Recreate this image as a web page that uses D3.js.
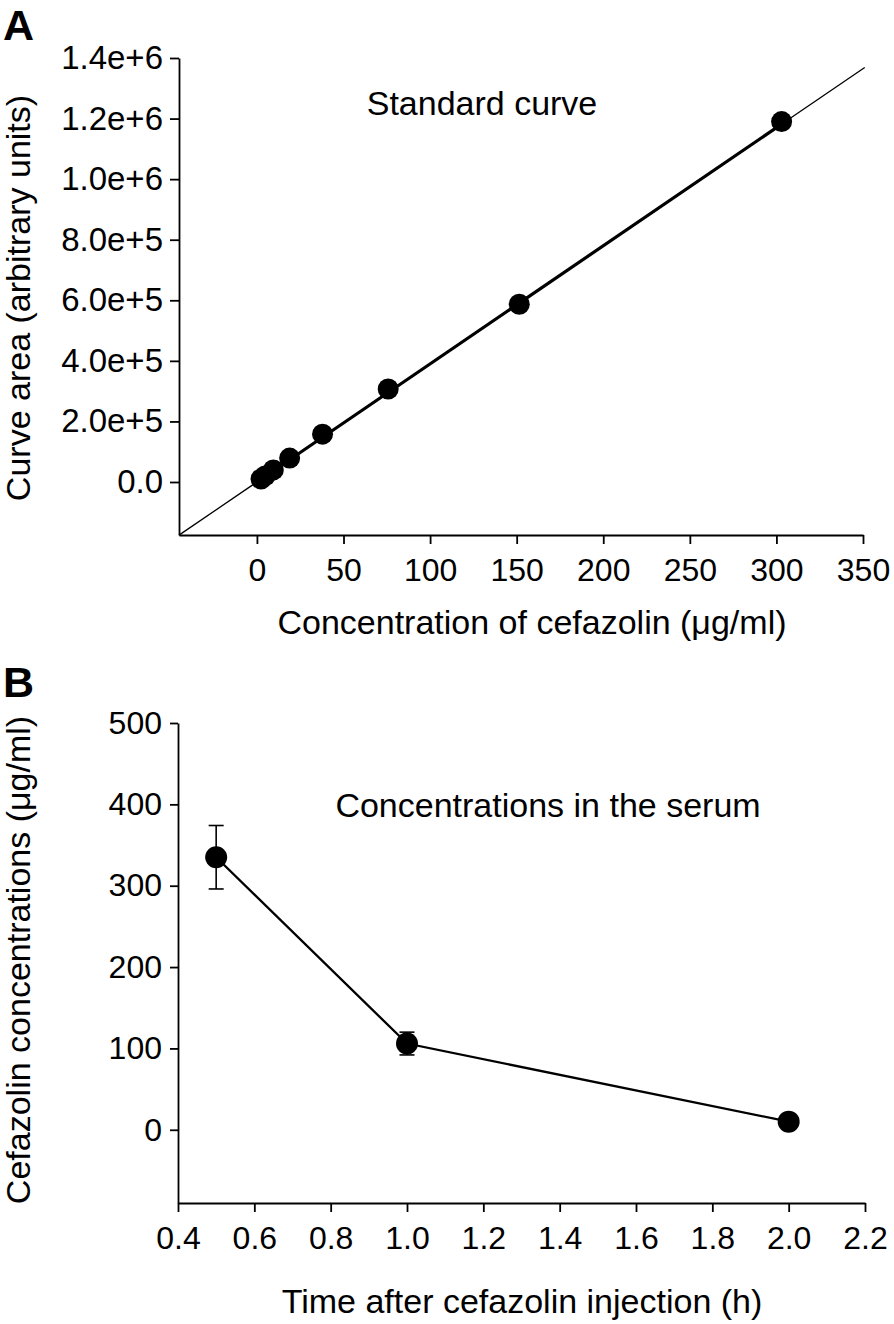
<!DOCTYPE html>
<html>
<head>
<meta charset="utf-8">
<script src="https://cdn.jsdelivr.net/npm/d3@7"></script>
<style>
  body { margin: 0; background: #fff; }
  svg { display: block; font-family: "Liberation Sans", Arial, sans-serif; }
  .axis path, .axis line { stroke: #000; stroke-width: 1.8; }
  .axis text { fill: #000; font-size: 32px; font-family: "Liberation Sans", Arial, sans-serif; }
  .axis.big text { font-size: 33px; }
</style>
</head>
<body>
<div id="chart"></div>
<script>
// Panel A: standard curve
const stdConc = [2.37, 4.73, 9.47, 18.9, 37.9, 75.8, 151.5, 303];
const stdArea = [1.0e4, 2.0e4, 4.0e4, 7.9e4, 1.58e5, 3.07e5, 5.87e5, 1.19e6];
const fitSlope = 3900, fitIntercept = 0;
const fitRange = [-45, 351];
const aXTicks = [0, 50, 100, 150, 200, 250, 300, 350];
const aYTicks = [0, 2e5, 4e5, 6e5, 8e5, 1e6, 1.2e6, 1.4e6];

// Panel B: serum concentrations
const times = [0.5, 1.0, 2.0];
const serumConc = [335, 106, 10];
const serumErr = [39, 14, 0];
const bXTicks = [0.4, 0.6, 0.8, 1.0, 1.2, 1.4, 1.6, 1.8, 2.0, 2.2];
const bYTicks = [0, 100, 200, 300, 400, 500];

const W = 894, H = 1324;
const svg = d3.select("#chart").append("svg").attr("width", W).attr("height", H);

function label(x, y, txt, size, opts = {}) {
    const t = svg.append("text").attr("x", x).attr("y", y)
        .attr("text-anchor", opts.anchor || "middle")
        .style("font-size", size + "px").attr("fill", "#000").text(txt);
    if (opts.bold) t.style("font-weight", "700");
    if (opts.rotate) t.attr("x", 0).attr("y", 0).attr("transform", `translate(${x},${y}) rotate(-90)`);
    return t;
}

// ---------- A ----------
const ax = d3.scaleLinear().domain([-45, 350]).range([179, 863]);
const ay = d3.scaleLinear().domain([-1.75e5, 1.4e6]).range([535, 58]);

svg.append("g").attr("class", "axis").attr("transform", `translate(0,${ay.range()[0]})`)
    .call(d3.axisBottom(ax).tickValues(aXTicks).tickSize(9).tickSizeOuter(0).tickPadding(14).tickFormat(d3.format("d")));
svg.append("g").attr("class", "axis big").attr("transform", `translate(${ax.range()[0]},0)`)
    .call(d3.axisLeft(ay).tickValues(aYTicks).tickSize(9).tickSizeOuter(0).tickPadding(7)
        .tickFormat(d => d === 0 ? "0.0" : d3.format(".1e")(d)));

const fit = c => fitIntercept + fitSlope * c;
// fitted regression line: thin over the full range, thick over the data range
svg.append("line")
    .attr("x1", ax(fitRange[0])).attr("y1", ay(fit(fitRange[0])))
    .attr("x2", ax(fitRange[1])).attr("y2", ay(fit(fitRange[1])))
    .attr("stroke", "#000").attr("stroke-width", 1.3);
const cMin = d3.min(stdConc), cMax = d3.max(stdConc);
svg.append("line")
    .attr("x1", ax(cMin)).attr("y1", ay(fit(cMin)))
    .attr("x2", ax(cMax)).attr("y2", ay(fit(cMax)))
    .attr("stroke", "#000").attr("stroke-width", 3.2);

const stdData = stdConc.map((c, i) => ({ c, a: stdArea[i] }));
svg.selectAll(".std-dot").data(stdData).enter().append("circle").attr("class", "std-dot")
    .attr("cx", d => ax(d.c)).attr("cy", d => ay(d.a)).attr("r", 10.5).attr("fill", "#000");

label(482, 115, "Standard curve", 34);
label(532, 634, "Concentration of cefazolin (\u03bcg/ml)", 34);
label(30, 298, "Curve area (arbitrary units)", 34, { rotate: true });
label(3, 40, "A", 43, { anchor: "start", bold: true });

// ---------- B ----------
const bx = d3.scaleLinear().domain([0.4, 2.2]).range([178, 865]);
const by = d3.scaleLinear().domain([-90, 500]).range([1203, 723]);

svg.append("g").attr("class", "axis").attr("transform", `translate(0,${by.range()[0]})`)
    .call(d3.axisBottom(bx).tickValues(bXTicks).tickSize(9).tickSizeOuter(0).tickPadding(14).tickFormat(d3.format(".1f")));
svg.append("g").attr("class", "axis").attr("transform", `translate(${bx.range()[0]},0)`)
    .call(d3.axisLeft(by).tickValues(bYTicks).tickSize(8).tickSizeOuter(0).tickPadding(8).tickFormat(d3.format("d")));

const serum = times.map((t, i) => ({ t, v: serumConc[i], e: serumErr[i] }));
const cap = 7.5;
const eb = svg.selectAll(".err").data(serum.filter(d => d.e > 0)).enter().append("g").attr("class", "err")
    .attr("stroke", "#000").attr("stroke-width", 1.6);
eb.append("line").attr("x1", d => bx(d.t)).attr("x2", d => bx(d.t))
    .attr("y1", d => by(d.v - d.e)).attr("y2", d => by(d.v + d.e));
eb.append("line").attr("x1", d => bx(d.t) - cap).attr("x2", d => bx(d.t) + cap)
    .attr("y1", d => by(d.v + d.e)).attr("y2", d => by(d.v + d.e));
eb.append("line").attr("x1", d => bx(d.t) - cap).attr("x2", d => bx(d.t) + cap)
    .attr("y1", d => by(d.v - d.e)).attr("y2", d => by(d.v - d.e));

svg.append("path").datum(serum)
    .attr("d", d3.line().x(d => bx(d.t)).y(d => by(d.v)))
    .attr("fill", "none").attr("stroke", "#000").attr("stroke-width", 2.3);
svg.selectAll(".serum-dot").data(serum).enter().append("circle").attr("class", "serum-dot")
    .attr("cx", d => bx(d.t)).attr("cy", d => by(d.v)).attr("r", 11).attr("fill", "#000");

label(548, 817, "Concentrations in the serum", 34);
label(522, 1313, "Time after cefazolin injection (h)", 34);
label(30, 960, "Cefazolin concentrations (\u03bcg/ml)", 34, { rotate: true });
label(3, 697, "B", 43, { anchor: "start", bold: true });
</script>
</body>
</html>
